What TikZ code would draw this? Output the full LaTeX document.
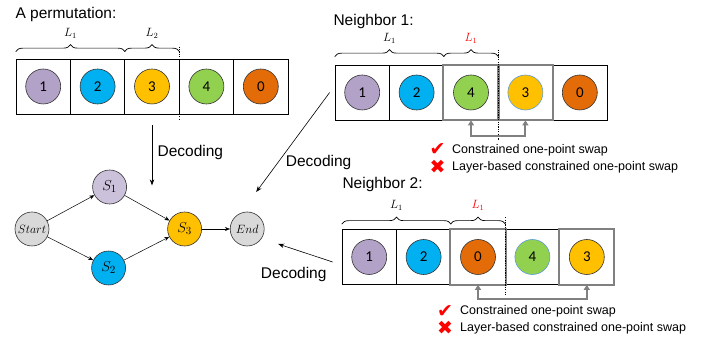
\documentclass[tikz,border=0pt]{standalone}
\usepackage[no-math]{fontspec}
\setmainfont{Liberation Sans}
\newfontfamily\digitfont{Carlito}
\newfontfamily\symfont{DejaVu Sans}
\usepackage{tikz}
\usetikzlibrary{positioning, calc, arrows.meta, decorations.pathreplacing}
\definecolor{cpurple}{HTML}{B3A2C7}
\definecolor{cblue}{HTML}{00B0F0}
\definecolor{cyellow}{HTML}{FFC000}
\definecolor{cgreen}{HTML}{92D050}
\definecolor{corange}{HTML}{E36C09}
\definecolor{clav}{HTML}{CCC1DA}
\definecolor{cgrey}{HTML}{D9D9D9}
\definecolor{swapgrey}{HTML}{808080}
\definecolor{rimblue}{HTML}{5B9BD5}

\begin{document}
\begin{tikzpicture}[x=1pt, y=1pt, node distance=54.4pt]
        \tikzstyle{cell}=[draw, rectangle, minimum width=54.4pt, minimum height=55pt, inner sep=0pt, line width=0.7pt];
        \tikzstyle{ball}=[draw=black!80, circle, minimum size=35pt, inner sep=0pt, line width=0.6pt, font=\digitfont\fontsize{15}{15}\selectfont];
        \tikzstyle{state}=[draw=black!80, circle, minimum size=34pt, inner sep=0pt, line width=0.6pt];
        \tikzstyle{title}=[anchor=west, font=\fontsize{15.5}{15.5}\selectfont];
        \tikzstyle{len}=[decorate, decoration={brace, amplitude=7pt}, line width=0.7pt];
        \tikzstyle{lenlabel}=[midway, above=13pt, inner sep=0pt, font=\fontsize{12}{12}\selectfont];
        \tikzstyle{cut}=[dash pattern=on 1.2pt off 1.2pt, line width=1.2pt];
        \tikzstyle{swapbox}=[draw=swapgrey, line width=2pt];
        \tikzstyle{swap}=[{Triangle[length=5pt, width=6pt]}-{Triangle[length=5pt, width=6pt]}, draw=swapgrey, line width=2pt];
        \tikzstyle{note}=[anchor=west, inner sep=0pt, font=\fontsize{12.5}{12.5}\selectfont];
        \tikzstyle{tickmark}=[inner sep=0pt, text=red, font=\symfont\fontsize{19}{19}\selectfont];
        \tikzstyle{dec}=[-{Stealth[length=6pt, width=4.5pt]}, line width=0.6pt];
        \useasboundingbox (0,0) rectangle (710,339);

        % the permutation
        \node[title] (ttl0) at (12,325) {A permutation:};
        \node[cell] (p1) at (43.2,252.5) {};
        \node[cell, right of=p1] (p2) {};
        \node[cell, right of=p2] (p3) {};
        \node[cell, right of=p3] (p4) {};
        \node[cell, right of=p4] (p5) {};
        \node[ball, fill=cpurple] (pb1) at (p1) {1};
        \node[ball, fill=cblue] (pb2) at (p2) {2};
        \node[ball, fill=cyellow] (pb3) at (p3) {3};
        \node[ball, fill=cgreen] (pb4) at (p4) {4};
        \node[ball, fill=corange] (pb5) at (p5) {0};
        \draw[len] ($(p1.north west)+(0,7)$) -- ($(p2.north east)+(0,7)$) node[lenlabel] {$L_1$};
        \draw[len] ($(p3.north west)+(0,7)$) -- ($(p3.north east)+(0,7)$) node[lenlabel] {$L_2$};
        \draw[cut] ($(p3.north east)+(0,12)$) -- ($(p3.south east)+(0,-6)$);

        % neighbor 1
        \node[title] (ttl1) at (330,318) {Neighbor 1:};
        \node[cell] (n11) at (362.2,246.5) {};
        \node[cell, right of=n11] (n12) {};
        \node[cell, right of=n12] (n13) {};
        \node[cell, right of=n13] (n14) {};
        \node[cell, right of=n14] (n15) {};
        \draw[swapbox] (n13.south west) rectangle (n13.north east);
        \draw[swapbox] (n14.south west) rectangle (n14.north east);
        \node[ball, fill=cpurple] (nb11) at (n11) {1};
        \node[ball, fill=cblue] (nb12) at (n12) {2};
        \node[ball, fill=cgreen] (nb13) at (n13) {4};
        \node[ball, fill=cyellow, draw=rimblue] (nb14) at (n14) {3};
        \node[ball, fill=corange] (nb15) at (n15) {0};
        \draw[len] ($(n11.north west)+(0,8)$) -- ($(n12.north east)+(0,8)$) node[lenlabel] {$L_1$};
        \draw[len] ($(n13.north west)+(0,8)$) -- ($(n13.north east)+(0,8)$) node[lenlabel, text=red] {$L_1$};
        \draw[cut] ($(n13.north east)+(0,15)$) -- ($(n13.south east)+(0,-20)$);
        \draw[swap] (n13.south) -- ++(0,-16) -| (n14.south);
        \node[tickmark] (chk1) at (437.5,189) {✔};
        \node[note] (ok1) at (452,189) {Constrained one-point swap};
        \node[tickmark] (crs1) at (437.5,172) {✖};
        \node[note] (no1) at (452,172) {Layer-based constrained one-point swap};

        % neighbor 2
        \node[title] (ttl2) at (339,155) {Neighbor 2:};
        \node[cell] (n21) at (369.2,82) {};
        \node[cell, right of=n21] (n22) {};
        \node[cell, right of=n22] (n23) {};
        \node[cell, right of=n23] (n24) {};
        \node[cell, right of=n24] (n25) {};
        \draw[swapbox] (n23.south west) rectangle (n23.north east);
        \draw[swapbox] (n25.south west) rectangle (n25.north east);
        \node[ball, fill=cpurple] (nb21) at (n21) {1};
        \node[ball, fill=cblue] (nb22) at (n22) {2};
        \node[ball, fill=corange] (nb23) at (n23) {0};
        \node[ball, fill=cgreen, draw=rimblue] (nb24) at (n24) {4};
        \node[ball, fill=cyellow] (nb25) at (n25) {3};
        \draw[len] ($(n21.north west)+(0,5)$) -- ($(n22.north east)+(0,5)$) node[lenlabel] {$L_1$};
        \draw[len] ($(n23.north west)+(0,5)$) -- ($(n23.north east)+(0,5)$) node[lenlabel, text=red] {$L_1$};
        \draw[cut] ($(n23.north east)+(0,12)$) -- ($(n23.south east)+(0,-10)$);
        \draw[swap] (n23.south) -- ++(0,-14) -| (n25.south);
        \node[tickmark] (chk2) at (445,27.5) {✔};
        \node[note] (ok2) at (460,27.5) {Constrained one-point swap};
        \node[tickmark] (crs2) at (445,11) {✖};
        \node[note] (no2) at (460,11) {Layer-based constrained one-point swap};

        % decoded graph
        \node[state, fill=cgrey] (start) at (32,110) {\fontsize{12.5}{12.5}\selectfont$Start$};
        \node[state, fill=clav, right=43pt of start, yshift=42pt] (s1) {\fontsize{15}{15}\selectfont$S_1$};
        \node[state, fill=cblue, right=42pt of start, yshift=-39pt] (s2) {\fontsize{15}{15}\selectfont$S_2$};
        \node[state, fill=cyellow, right=118pt of start] (s3) {\fontsize{15}{15}\selectfont$S_3$};
        \node[state, fill=cgrey, right=28pt of s3] (endn) {\fontsize{12.5}{12.5}\selectfont$End$};

        \path[-{Stealth[length=5pt, width=4pt]}, line width=0.5pt]
        (start) edge (s1)
        (start) edge (s2)
        (s1) edge (s3)
        (s2) edge (s3)
        (s3) edge (endn);

        % decoding arrows
        \coordinate[below=11pt of p3.south] (d1a);
        \coordinate[below=60pt of d1a] (d1b);
        \coordinate (d2a) at ($(n11.west)+(-5,0)$);
        \coordinate (d2b) at ($(endn)+(9,37)$);
        \coordinate (d3a) at ($(n21.west)+(-9,-5)$);
        \coordinate (d3b) at ($(endn)+(31,-15)$);
        \draw[dec] (d1a) -- (d1b) node[pos=0.45, anchor=west, xshift=2pt, font=\fontsize{15.5}{15.5}\selectfont] {Decoding};
        \draw[dec] (d2a) -- (d2b) node[pos=0.7, anchor=west, xshift=4pt, font=\fontsize{15.5}{15.5}\selectfont] {Decoding};
        \draw[dec] (d3a) -- (d3b) node[pos=0.55, below=12pt, xshift=-9pt, font=\fontsize{15.5}{15.5}\selectfont] {Decoding};
      \end{tikzpicture}
\end{document}
